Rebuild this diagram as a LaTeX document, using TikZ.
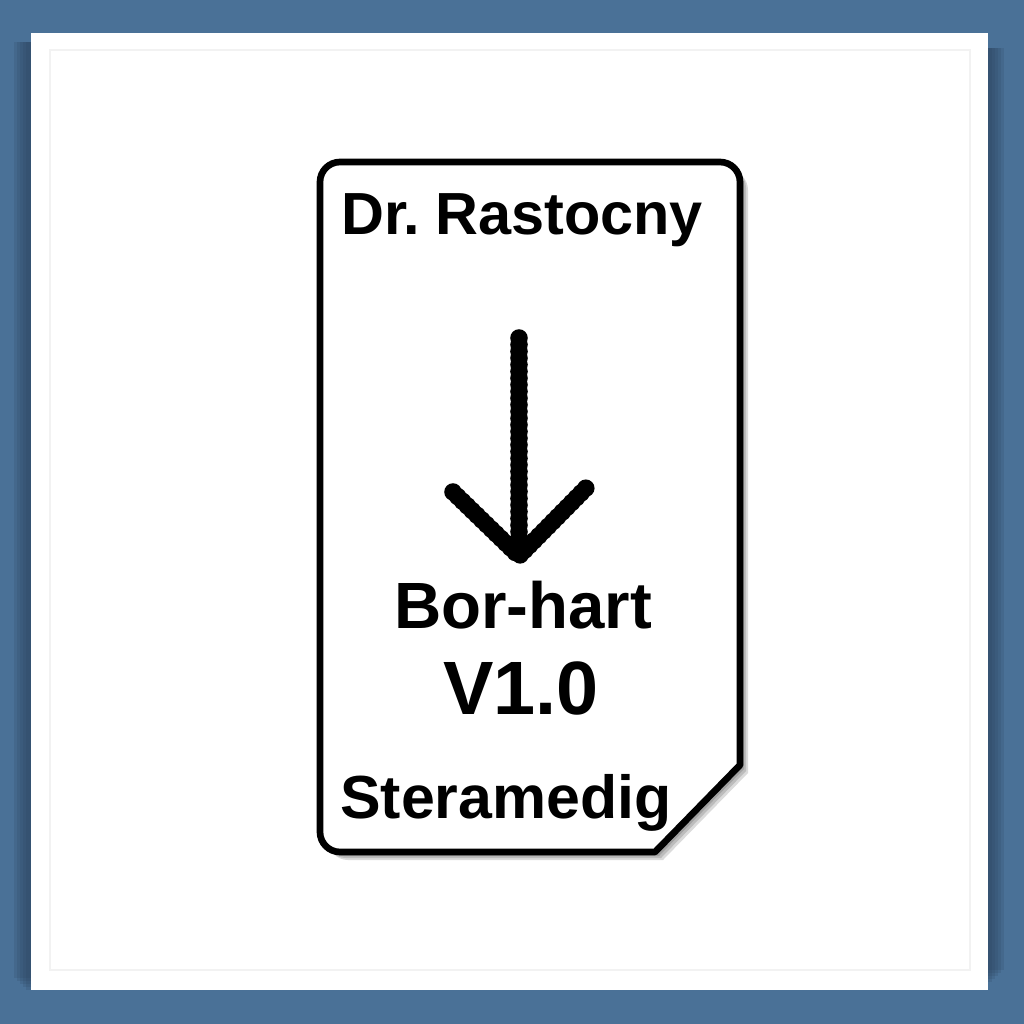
\documentclass[tikz,border=0pt]{standalone}
\usepackage{fontspec}
\setmainfont{Liberation Sans}
\usepackage{xcolor}
\definecolor{framebg}{HTML}{4A7197}
\definecolor{frameshade}{HTML}{2C4660}
\tikzset{
	cardline/.style={line width=1.9pt, line join=round},
	cardtext/.style={font=\bfseries\fontsize{16.9}{18}\selectfont, inner sep=0pt},
	dotline/.style={line width=5pt, line cap=round, dash pattern=on 0pt off 1.9pt}
}

\begin{document}
\begin{tikzpicture}[x=0.01cm,y=-0.01cm]
	% frame and panel
	\fill[framebg] (0,0) rectangle (1024,1024);
	\useasboundingbox (0,0) rectangle (1024,1024);
	\foreach \s in {0,3,6,9,12}
		\fill[frameshade, opacity=0.2] (31-\s-5,42) rectangle (31,990-\s);
	\foreach \s in {0,3,6,9,12}
		\fill[frameshade, opacity=0.2] (988,48) rectangle (988+\s+4,982-\s);
	\fill[white] (31,33) rectangle (988,990);
	\draw[black!5, line width=0.4pt] (50,50) rectangle (970,970);
	% card shadow
	\foreach \s in {2,4,6,8}
		\fill[black, opacity=0.14, shift={(\s,\s)}] (320,500) [rounded corners=0.2cm] -- (320,162) -- (740,162) -- (740,400) [sharp corners] -- (740,765) -- (655,852) [rounded corners=0.2cm] -- (320,852) -- cycle;
	\draw[cardline, fill=white] (320,500) [rounded corners=0.2cm] -- (320,162) -- (740,162) -- (740,400) [sharp corners] -- (740,765) -- (655,852) [rounded corners=0.2cm] -- (320,852) -- cycle;
	% texts
	\node[cardtext] (author) at (522,220) {Dr.\hspace{-2pt} Rastocny};
	\node[cardtext, font=\bfseries\fontsize{18.6}{20}\selectfont] (name) at (523,605) {Bor-hart};
	\node[cardtext, font=\bfseries\fontsize{21.5}{23}\selectfont] (version) at (521,688) {V1.0};
	\node[cardtext, font=\bfseries\fontsize{17.3}{19}\selectfont] (maker) at (506,803) {Steramedig};
	% arrow
	\coordinate (shaft) at (519,338);
	\coordinate (tip) at (519,556);
	\coordinate (leftarm) at (453,492);
	\coordinate (rightarm) at (587,487);
	\draw[dotline] (shaft) -- (tip);
	\draw[dotline] (leftarm) -- (tip) -- (rightarm);
\end{tikzpicture}
\end{document}
